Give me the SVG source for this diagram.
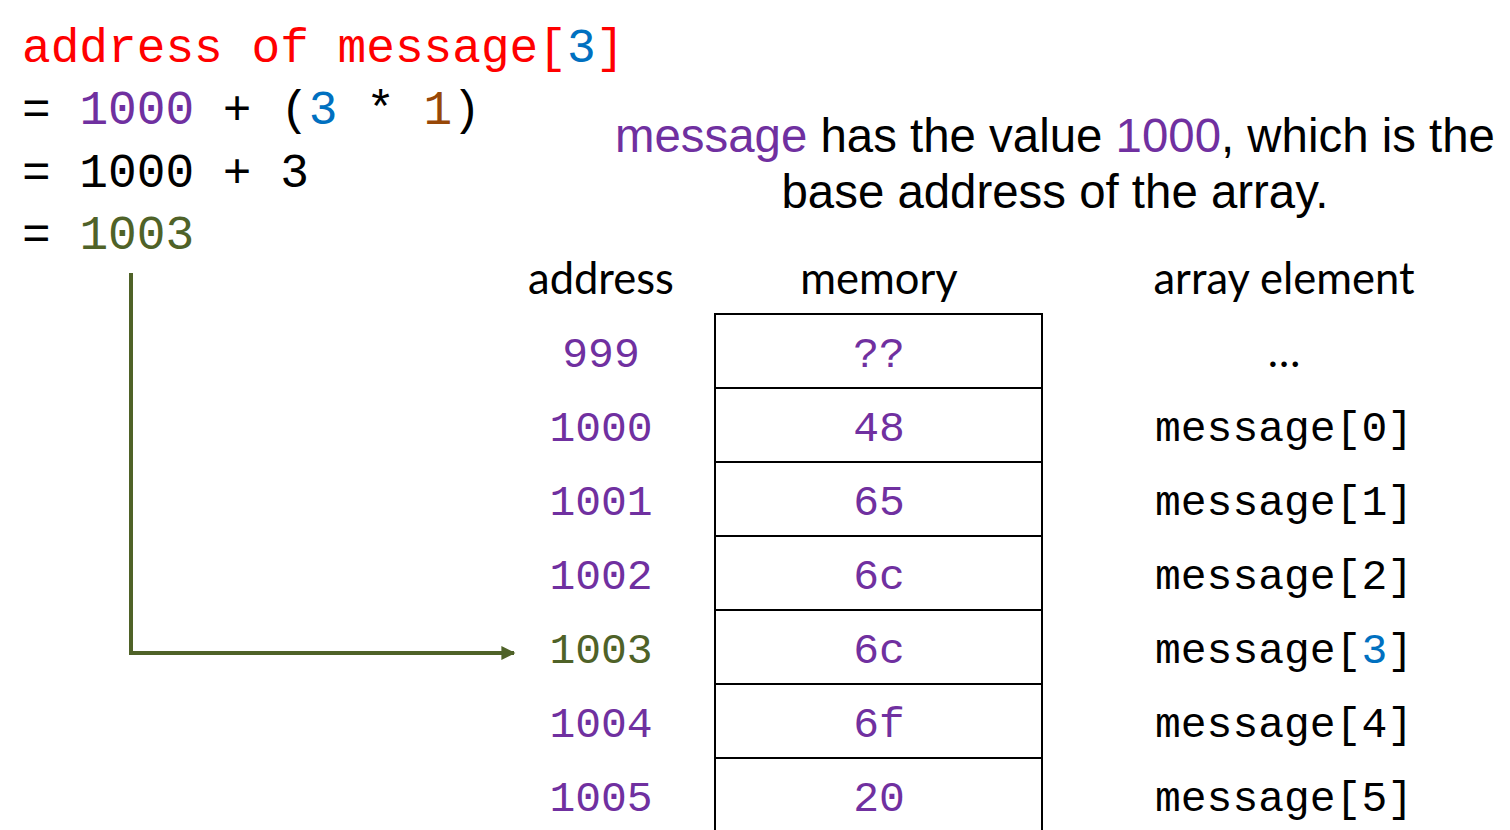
<svg xmlns="http://www.w3.org/2000/svg" width="1510" height="830" viewBox="0 0 1510 830">
<style>
.mono{font-family:"Liberation Mono","DejaVu Sans Mono",monospace}
.big{font-size:47.8px}
.cell{font-size:43px}
.sans{font-family:"Liberation Sans",Arial,sans-serif;font-size:47.4px}
.hdr{font-family:Lato,"Open Sans",sans-serif;font-size:43.5px}
.pur{fill:#7030A0}
.blu{fill:#0070C0}
.red{fill:#FF0000}
.brn{fill:#984807}
.grn{fill:#4F6228}
.box{fill:#fff;stroke:#000;stroke-width:2}
.mid{text-anchor:middle}
</style>
<defs>
<marker id="ah" viewBox="0 0 10 10" refX="9" refY="5" markerWidth="4" markerHeight="3.5" orient="auto" markerUnits="strokeWidth">
<path d="M0,0 L10,5 L0,10 z" fill="#4F6228"/>
</marker>
</defs>
<rect width="1510" height="830" fill="#fff"/>
<g id="formula">
<text class="mono big red" x="22" y="62">address of message[<tspan class="blu">3</tspan>]</text>
<text class="mono big" x="22" y="124">= <tspan class="pur">1000</tspan> + (<tspan class="blu">3</tspan> * <tspan class="brn">1</tspan>)</text>
<text class="mono big" x="22" y="187">= 1000 + 3</text>
<text class="mono big" x="22" y="249">= <tspan class="grn">1003</tspan></text>
</g>
<g id="note">
<text class="sans mid" x="1055" y="152"><tspan class="pur">message</tspan> has the value <tspan class="pur">1000</tspan>, which is the</text>
<text class="sans mid" x="1055" y="208">base address of the array.</text>
</g>
<g id="headers">
<text class="hdr mid" x="601" y="294">address</text>
<text class="hdr mid" x="879" y="294">memory</text>
<text class="hdr mid" x="1284" y="294">array element</text>
</g>
<g id="row999">
<rect class="box" x="715" y="314" width="327" height="74"/>
<text class="mono cell pur mid" x="601" y="367">999</text>
<text class="mono cell pur mid" x="879" y="367">??</text>
<text class="hdr mid" x="1284" y="367">…</text>
</g>
<g id="row1000">
<rect class="box" x="715" y="388" width="327" height="74"/>
<text class="mono cell pur mid" x="601" y="441">1000</text>
<text class="mono cell pur mid" x="879" y="441">48</text>
<text class="mono cell mid" x="1284" y="441">message[0]</text>
</g>
<g id="row1001">
<rect class="box" x="715" y="462" width="327" height="74"/>
<text class="mono cell pur mid" x="601" y="515">1001</text>
<text class="mono cell pur mid" x="879" y="515">65</text>
<text class="mono cell mid" x="1284" y="515">message[1]</text>
</g>
<g id="row1002">
<rect class="box" x="715" y="536" width="327" height="74"/>
<text class="mono cell pur mid" x="601" y="589">1002</text>
<text class="mono cell pur mid" x="879" y="589">6c</text>
<text class="mono cell mid" x="1284" y="589">message[2]</text>
</g>
<g id="row1003">
<rect class="box" x="715" y="610" width="327" height="74"/>
<text class="mono cell grn mid" x="601" y="663">1003</text>
<text class="mono cell pur mid" x="879" y="663">6c</text>
<text class="mono cell mid" x="1284" y="663">message[<tspan class="blu">3</tspan>]</text>
</g>
<g id="row1004">
<rect class="box" x="715" y="684" width="327" height="74"/>
<text class="mono cell pur mid" x="601" y="737">1004</text>
<text class="mono cell pur mid" x="879" y="737">6f</text>
<text class="mono cell mid" x="1284" y="737">message[4]</text>
</g>
<g id="row1005">
<rect class="box" x="715" y="758" width="327" height="80"/>
<text class="mono cell pur mid" x="601" y="811">1005</text>
<text class="mono cell pur mid" x="879" y="811">20</text>
<text class="mono cell mid" x="1284" y="811">message[5]</text>
</g>
<g id="connectors">
<path d="M131,273 L131,653 L514,653" fill="none" stroke="#4F6228" stroke-width="4" marker-end="url(#ah)"/>
</g>
</svg>
